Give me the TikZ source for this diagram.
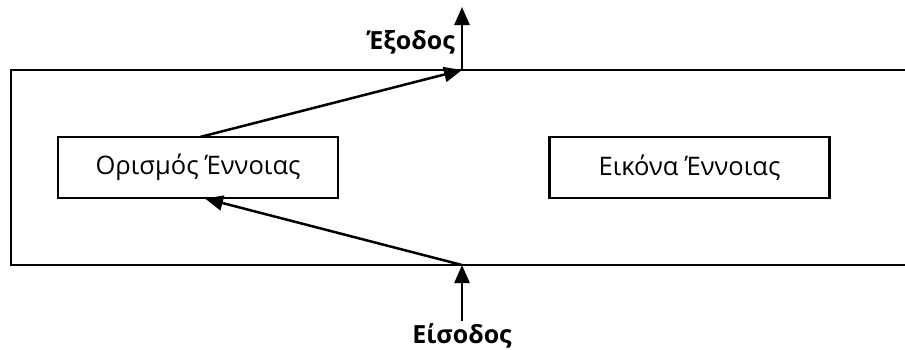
\documentclass[tikz,border=0pt]{standalone}
\usepackage{fontspec}
\setmainfont{Open Sans}
\usetikzlibrary{arrows.meta}
\begin{document}
\begin{tikzpicture}[x=1pt,y=-1pt,
  conc/.style={draw,line width=2.4pt,minimum width=280pt,minimum height=61pt,inner sep=0pt,font=\fontsize{25.5}{30}\selectfont},
  lbl/.style={font=\bfseries\fontsize{25}{30}\selectfont,inner sep=0pt},
  arr/.style={line width=2.5pt,-{Triangle[length=18pt,width=15pt]}}]
\useasboundingbox (0,0) rectangle (905,349);
\draw[line width=2.7pt] (906,70) -- (11,70) -- (11,265) -- (906,265);
\node[conc] (def) at (198,167.5) {Ορισμός Έννοιας};
\node[conc] (img) at (689.5,167.5) {Εικόνα Έννοιας};
\coordinate (outp) at (462,70);
\coordinate (top) at (462,7);
\coordinate (inp) at (462,265);
\coordinate (bot) at (462,321);
\coordinate (dtop) at (200,137);
\coordinate (dbot) at (205,198.5);
\draw[arr] (dtop) -- (outp);
\draw[arr] (outp) -- (top);
\draw[arr] (inp) -- (dbot);
\draw[arr] (bot) -- (inp);
\node[lbl,anchor=east] (out) at (455,42) {Έξοδος};
\node[lbl] (in) at (462,336) {Είσοδος};
\end{tikzpicture}
\end{document}
